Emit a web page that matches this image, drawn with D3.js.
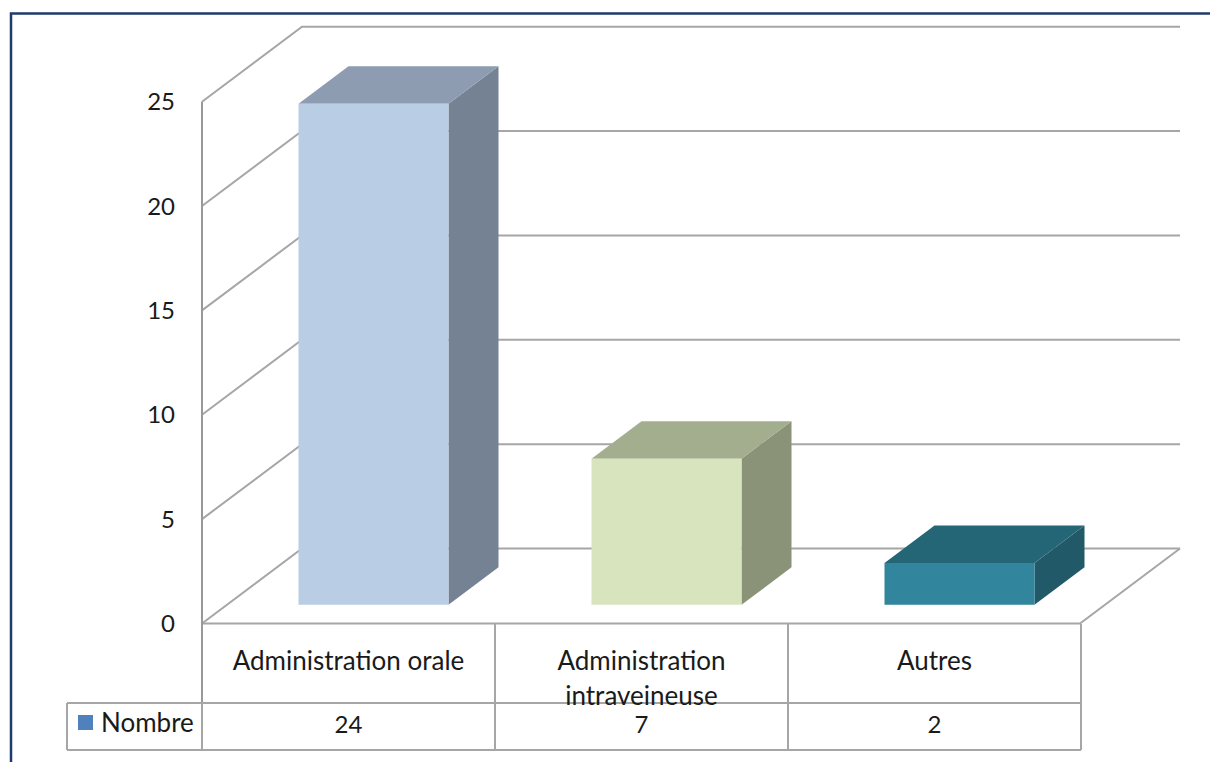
<!DOCTYPE html>
<html><head><meta charset="utf-8">
<script src="https://cdn.jsdelivr.net/npm/d3@7"></script>
<style>html,body{margin:0;padding:0;background:#fff;}svg{display:block;}</style>
</head><body>
<svg id="c" width="1210" height="762"></svg>
<script>
const categories = ["Administration orale", "Administration intraveineuse", "Autres"];
const categoryLines = [["Administration orale"], ["Administration", "intraveineuse"], ["Autres"]];
const seriesName = "Nombre";
const values = [24, 7, 2];
const yTicks = [0, 5, 10, 15, 20, 25];
const frontColors = ["#b9cde5", "#d7e4bd", "#31859c"];
const topColors = ["#8d9cb1", "#a3ae8f", "#256676"];
const sideColors = ["#748294", "#8a9277", "#215968"];

const svg = d3.select("#c");
const font = "Lato, 'Open Sans', sans-serif";
const txtC = "#1a1a1a";

// frame
svg.append("path").attr("d", "M11,762 L11,13.5 L1210,13.5").attr("fill", "none")
  .attr("stroke", "#1f3b6b").attr("stroke-width", 2.5);

const y = d3.scaleLinear().domain([0, 25]).range([623.5, 101.7]);
const x = d3.scaleBand().domain(categories).range([202, 1081]).paddingInner(0).paddingOuter(0);
const DX = 100, DY = -75; // depth offset of full box
const P = (px, v, d) => [px + d * DX, y(v) + d * DY];

const grid = "#a6a6a6";
const g = svg.append("g");
yTicks.forEach(t => {
  const a = P(202, t, 0), b = P(202, t, 1), c = P(1080, t, 1);
  g.append("path").attr("d", `M${a}L${b}L${c}`).attr("fill", "none")
    .attr("stroke", grid).attr("stroke-width", 2);
});
{
  const a = P(202, 0, 0), b = P(1080, 0, 0), c = P(1080, 0, 1);
  g.append("path").attr("d", `M${a}L${b}L${c}`).attr("fill", "none")
    .attr("stroke", grid).attr("stroke-width", 2);
}
g.append("line").attr("x1", 202).attr("x2", 202).attr("y1", y(25)).attr("y2", 710)
  .attr("stroke", "#999").attr("stroke-width", 2);

svg.append("g").selectAll("text").data(yTicks).join("text")
  .attr("x", 175).attr("y", d => y(d)).attr("dy", "0.36em").attr("text-anchor", "end")
  .attr("font-family", font).attr("font-size", 24).attr("fill", txtC).text(d => d);

const bw = 150, d0 = 0.25, d1 = 0.75;
const bars = svg.append("g");
categories.forEach((c, i) => {
  const xl = x(c) + (x.bandwidth() - bw) / 2, xr = xl + bw, v = values[i];
  const poly = pts => "M" + pts.map(p => p.join(",")).join("L") + "Z";
  bars.append("path").attr("d", poly([P(xr, 0, d0), P(xr, 0, d1), P(xr, v, d1), P(xr, v, d0)]))
    .attr("fill", sideColors[i]);
  bars.append("path").attr("d", poly([P(xl, v, d0), P(xr, v, d0), P(xr, v, d1), P(xl, v, d1)]))
    .attr("fill", topColors[i]);
  bars.append("path").attr("d", poly([P(xl, 0, d0), P(xr, 0, d0), P(xr, v, d0), P(xl, v, d0)]))
    .attr("fill", frontColors[i]);
});

const t = svg.append("g");
const rowTop = 624, rowMid = 703, rowBot = 750, legL = 67;
const lineC = "#a6a6a6";
const L = (x1, y1, x2, y2) => t.append("line").attr("x1", x1).attr("y1", y1).attr("x2", x2).attr("y2", y2)
  .attr("stroke", lineC).attr("stroke-width", 2);
categories.forEach((c, i) => {
  L(x(c) + x.bandwidth(), rowTop, x(c) + x.bandwidth(), rowBot);
});
L(legL, rowMid, 1081, rowMid);
L(legL, rowBot, 1081, rowBot);
L(legL, rowMid, legL, rowBot);
L(202, rowMid, 202, rowBot);

categories.forEach((c, i) => {
  const cx = x(c) + x.bandwidth() / 2;
  categoryLines[i].forEach((ln, j) => {
    t.append("text").attr("x", cx).attr("y", 661 + j * 35).attr("dy", "0.36em")
      .attr("text-anchor", "middle").attr("font-family", font).attr("font-size", 26)
      .attr("fill", txtC).text(ln);
  });
  t.append("text").attr("x", cx).attr("y", 724).attr("dy", "0.36em")
    .attr("text-anchor", "middle").attr("font-family", font).attr("font-size", 24)
    .attr("fill", txtC).text(values[i]);
});
t.append("rect").attr("x", 78).attr("y", 715).attr("width", 15).attr("height", 15).attr("fill", "#4f81bd");
t.append("text").attr("x", 101).attr("y", 723).attr("dy", "0.36em").attr("font-family", font)
  .attr("font-size", 26).attr("fill", txtC).text(seriesName);
</script>
</body></html>
